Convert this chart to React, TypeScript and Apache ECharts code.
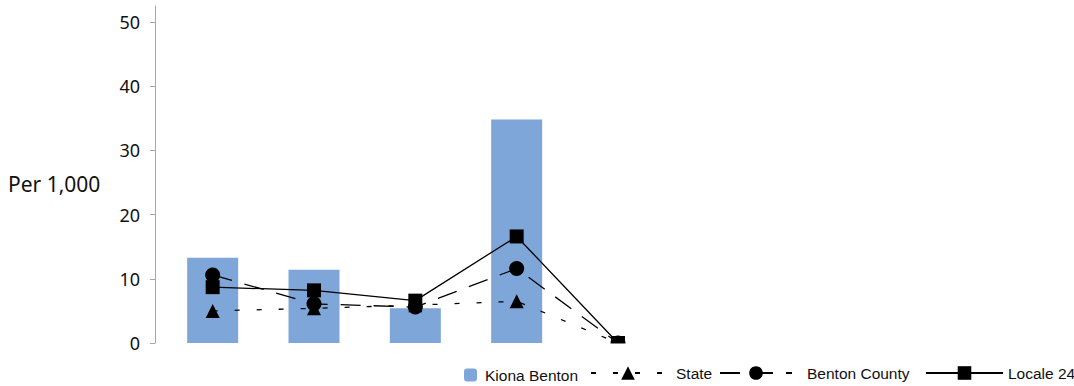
import React, { useEffect, useRef } from "react";
import * as echarts from "echarts";

const categories = ["Group 1", "Group 2", "Group 3", "Group 4", "Group 5", "Group 6", "Group 7", "Group 8", "Group 9"];
const kionaBenton = [13.3, 11.4, 5.4, 34.8, 0, null, null, null, null];
const state = [5.0, 5.4, 5.9, 6.5, 0, null, null, null, null];
const bentonCounty = [10.6, 6.1, 5.6, 11.6, 0, null, null, null, null];
const locale24 = [8.7, 8.2, 6.6, 16.6, 0, null, null, null, null];
const yTicks = [0, 10, 20, 30, 40, 50];

const FONT = "'Noto Sans', 'Open Sans', sans-serif";
const LEG_FONT = "'Liberation Sans', Arial, sans-serif";

export default function App() {
  const ref = useRef<HTMLDivElement>(null);
  useEffect(() => {
    document.body.style.margin = "0";
    const chart = echarts.init(ref.current!, null, { renderer: "svg" });
    const legText = { fontFamily: LEG_FONT, fontSize: 15.5, color: "#111" };
    const lineCommon = {
      type: "line" as const,
      symbolSize: 14,
      itemStyle: { color: "#000" },
      z: 3,
    };
    chart.setOption({
      animation: false,
      grid: { left: 162, right: 0, top: 6, bottom: 43, containLabel: false },
      xAxis: {
        type: "category",
        data: categories,
        axisLine: { show: false },
        axisTick: { show: false },
        axisLabel: { show: false },
        splitLine: { show: false },
      },
      yAxis: {
        type: "value",
        min: 0,
        max: 52.5,
        offset: 7,
        axisLine: { show: true, lineStyle: { color: "#a6a6a6", width: 1 } },
        axisTick: { show: true, length: 5, customValues: yTicks, lineStyle: { color: "#a6a6a6" } },
        axisLabel: {
          customValues: yTicks,
          margin: 15,
          padding: [6, 0, 0, 0],
          fontFamily: FONT,
          fontSize: 18,
          color: "#111",
        },
        splitLine: { show: false },
      },
      legend: [
        {
          data: ["Kiona Benton"],
          left: 464,
          top: 367,
          padding: 0,
          itemWidth: 13,
          itemHeight: 13,
          textStyle: { ...legText, padding: [0, 0, 0, 3] },
        },
        {
          data: ["State"],
          left: 590,
          top: 365,
          padding: 0,
          itemWidth: 74,
          itemHeight: 17,
          textStyle: { ...legText, padding: [0, 0, 0, 6] },
        },
        {
          data: ["Benton County"],
          left: 719,
          top: 365,
          padding: 0,
          itemWidth: 72,
          itemHeight: 17,
          textStyle: { ...legText, padding: [0, 0, 0, 10] },
        },
        {
          data: ["Locale 24"],
          left: 925,
          top: 365,
          padding: 0,
          itemWidth: 77,
          itemHeight: 17,
          textStyle: legText,
        },
      ],
      graphic: [
        {
          type: "text",
          left: 8,
          top: 173,
          style: { text: "Per 1,000", fontFamily: FONT, fontSize: 21, fill: "#111" },
        },
        {
          type: "rect",
          shape: { x: 156, y: 343.5, width: 918, height: 12 },
          style: { fill: "#fff" },
          z: 100,
        },
      ],
      series: [
        {
          name: "Kiona Benton",
          type: "bar",
          data: kionaBenton,
          barWidth: 51,
          itemStyle: { color: "#7ea6d8" },
          z: 1,
        },
        {
          ...lineCommon,
          name: "State",
          data: state,
          symbol: "triangle",
          lineStyle: { color: "#000", width: 1.3, type: [5, 17] },
        },
        {
          ...lineCommon,
          name: "Benton County",
          data: bentonCounty,
          symbol: "circle",
          symbolSize: 15,
          lineStyle: { color: "#000", width: 1.3, type: [20, 13] },
        },
        {
          ...lineCommon,
          name: "Locale 24",
          data: locale24,
          symbol: "rect",
          symbolSize: 14,
          lineStyle: { color: "#000", width: 1.3, type: "solid" },
        },
      ],
    });
    return () => chart.dispose();
  }, []);
  return <div ref={ref} style={{ width: 1074, height: 386 }} />;
}
